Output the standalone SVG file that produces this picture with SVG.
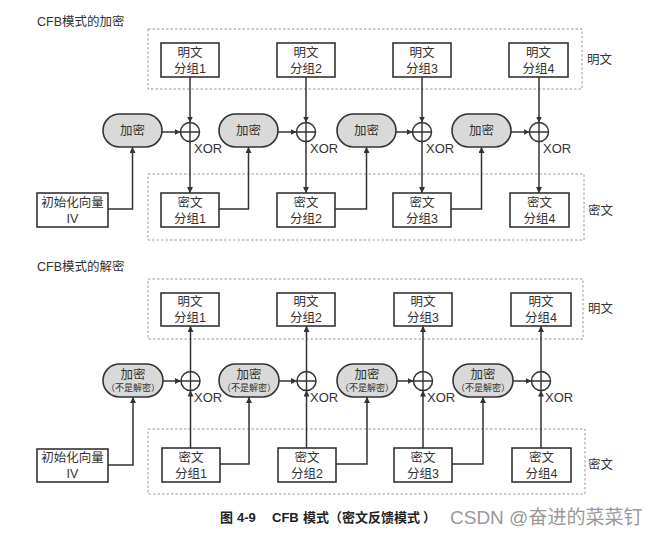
<svg xmlns="http://www.w3.org/2000/svg" width="657" height="540" viewBox="0 0 657 540">
<defs>
<marker id="ah" viewBox="0 0 10 10" refX="10" refY="5" markerWidth="6" markerHeight="6" markerUnits="userSpaceOnUse" orient="auto"><path d="M0,0 L10,5 L0,10 z" fill="#333"/></marker>
<g id="xor"><circle r="9.5" fill="#fff" stroke="#333" stroke-width="1.5"/><path d="M-9.5,0 H9.5 M0,-9.5 V9.5" stroke="#333" stroke-width="1.4"/></g>
</defs>
<style>
text{font-family:"Liberation Sans","Noto Sans CJK SC",sans-serif;fill:#333}
.t{font-size:12.5px}
.x{font-size:13px}
.c{text-anchor:middle}
.box{fill:#fff;stroke:#333;stroke-width:1.6}
.pill{fill:#d9d9d9;stroke:#333;stroke-width:1.6}
.dash{fill:none;stroke:#999;stroke-width:1;stroke-dasharray:2.5,2}
.arr{fill:none;stroke:#333;stroke-width:1.5;marker-end:url(#ah)}
.sm{font-size:9px}
.cap{font-size:13px;font-weight:bold;fill:#222}
.wm{font-size:19px;fill:#999}
</style>
<rect width="657" height="540" fill="#fff"/>

<!-- ===== Encryption ===== -->
<text class="t" x="37" y="26">CFB模式的加密</text>
<rect class="dash" x="148" y="29" width="434" height="60"/>
<rect class="dash" x="148" y="174" width="436" height="66"/>
<text class="t" x="587" y="64">明文</text>
<text class="t" x="588" y="215">密文</text>

<g id="enc-p1"><rect class="box" x="161" y="43" width="58" height="34"/><text class="t c" x="190" y="57">明文</text><text class="t c" x="190" y="73">分组1</text></g>
<g id="enc-p2"><rect class="box" x="277" y="43" width="58" height="34"/><text class="t c" x="306" y="57">明文</text><text class="t c" x="306" y="73">分组2</text></g>
<g id="enc-p3"><rect class="box" x="393" y="43" width="58" height="34"/><text class="t c" x="422" y="57">明文</text><text class="t c" x="422" y="73">分组3</text></g>
<g id="enc-p4"><rect class="box" x="509" y="43" width="59" height="34"/><text class="t c" x="538.5" y="57">明文</text><text class="t c" x="538.5" y="73">分组4</text></g>

<g id="enc-e1"><rect class="pill" x="103" y="114" width="59" height="33" rx="16.5"/><text class="t c" x="132.5" y="135">加密</text></g>
<g id="enc-e2"><rect class="pill" x="219" y="114" width="59" height="33" rx="16.5"/><text class="t c" x="248.5" y="135">加密</text></g>
<g id="enc-e3"><rect class="pill" x="337" y="114" width="59" height="33" rx="16.5"/><text class="t c" x="366.5" y="135">加密</text></g>
<g id="enc-e4"><rect class="pill" x="452" y="114" width="59" height="33" rx="16.5"/><text class="t c" x="481.5" y="135">加密</text></g>

<g id="enc-x1"><use href="#xor" x="190" y="132"/><text class="x" x="194" y="153">XOR</text></g>
<g id="enc-x2"><use href="#xor" x="306" y="132"/><text class="x" x="310" y="153">XOR</text></g>
<g id="enc-x3"><use href="#xor" x="422" y="132"/><text class="x" x="426" y="153">XOR</text></g>
<g id="enc-x4"><use href="#xor" x="539" y="132"/><text class="x" x="543" y="153">XOR</text></g>

<g id="enc-iv"><rect class="box" x="37" y="193" width="71" height="34"/><text class="t c" x="72.5" y="207">初始化向量</text><text class="t c" x="72.5" y="223">IV</text></g>
<g id="enc-c1"><rect class="box" x="161" y="193" width="58" height="34"/><text class="t c" x="190" y="207">密文</text><text class="t c" x="190" y="223">分组1</text></g>
<g id="enc-c2"><rect class="box" x="277" y="193" width="58" height="34"/><text class="t c" x="306" y="207">密文</text><text class="t c" x="306" y="223">分组2</text></g>
<g id="enc-c3"><rect class="box" x="393" y="193" width="58" height="34"/><text class="t c" x="422" y="207">密文</text><text class="t c" x="422" y="223">分组3</text></g>
<g id="enc-c4"><rect class="box" x="510" y="193" width="59" height="34"/><text class="t c" x="539.5" y="207">密文</text><text class="t c" x="539.5" y="223">分组4</text></g>

<g id="enc-connectors">
<path class="arr" d="M190,77 V122.5"/><path class="arr" d="M306,77 V122.5"/><path class="arr" d="M422,77 V122.5"/><path class="arr" d="M539,77 V122.5"/>
<path class="arr" d="M190,141.5 V193"/><path class="arr" d="M306,141.5 V193"/><path class="arr" d="M422,141.5 V193"/><path class="arr" d="M539,141.5 V193"/>
<path class="arr" d="M162,132 H180.5"/><path class="arr" d="M278,132 H296.5"/><path class="arr" d="M396,132 H412.5"/><path class="arr" d="M511,132 H529.5"/>
<path class="arr" d="M108,209 H132.5 V147"/>
<path class="arr" d="M219,209 H248.5 V147"/>
<path class="arr" d="M335,209 H366.5 V147"/>
<path class="arr" d="M451,209 H481.5 V147"/>
</g>

<!-- ===== Decryption ===== -->
<text class="t" x="37" y="271">CFB模式的解密</text>
<rect class="dash" x="148" y="279" width="435" height="60"/>
<rect class="dash" x="148" y="429" width="437" height="65"/>
<text class="t" x="588" y="313">明文</text>
<text class="t" x="588" y="469">密文</text>

<g id="dec-p1"><rect class="box" x="161" y="293" width="58" height="33"/><text class="t c" x="190" y="306">明文</text><text class="t c" x="190" y="322">分组1</text></g>
<g id="dec-p2"><rect class="box" x="277" y="293" width="58" height="33"/><text class="t c" x="306" y="306">明文</text><text class="t c" x="306" y="322">分组2</text></g>
<g id="dec-p3"><rect class="box" x="394" y="293" width="58" height="33"/><text class="t c" x="423" y="306">明文</text><text class="t c" x="423" y="322">分组3</text></g>
<g id="dec-p4"><rect class="box" x="511" y="293" width="60" height="33"/><text class="t c" x="541" y="306">明文</text><text class="t c" x="541" y="322">分组4</text></g>

<g id="dec-e1"><rect class="pill" x="103" y="364" width="60" height="33" rx="16.5"/><text class="t c" x="133" y="379">加密</text><text class="sm c" x="133" y="391">（不是解密）</text></g>
<g id="dec-e2"><rect class="pill" x="219" y="364" width="60" height="33" rx="16.5"/><text class="t c" x="249" y="379">加密</text><text class="sm c" x="249" y="391">（不是解密）</text></g>
<g id="dec-e3"><rect class="pill" x="337" y="364" width="60" height="33" rx="16.5"/><text class="t c" x="367" y="379">加密</text><text class="sm c" x="367" y="391">（不是解密）</text></g>
<g id="dec-e4"><rect class="pill" x="453" y="364" width="60" height="33" rx="16.5"/><text class="t c" x="483" y="379">加密</text><text class="sm c" x="483" y="391">（不是解密）</text></g>

<g id="dec-x1"><use href="#xor" x="190.5" y="381"/><text class="x" x="194" y="402">XOR</text></g>
<g id="dec-x2"><use href="#xor" x="306.5" y="381"/><text class="x" x="310" y="402">XOR</text></g>
<g id="dec-x3"><use href="#xor" x="423" y="381"/><text class="x" x="427" y="402">XOR</text></g>
<g id="dec-x4"><use href="#xor" x="541" y="381"/><text class="x" x="545" y="402">XOR</text></g>

<g id="dec-iv"><rect class="box" x="37" y="449" width="71" height="33"/><text class="t c" x="72.5" y="462">初始化向量</text><text class="t c" x="72.5" y="478">IV</text></g>
<g id="dec-c1"><rect class="box" x="162" y="448" width="58" height="34"/><text class="t c" x="191" y="462">密文</text><text class="t c" x="191" y="478">分组1</text></g>
<g id="dec-c2"><rect class="box" x="278" y="448" width="58" height="34"/><text class="t c" x="307" y="462">密文</text><text class="t c" x="307" y="478">分组2</text></g>
<g id="dec-c3"><rect class="box" x="394" y="448" width="58" height="34"/><text class="t c" x="423" y="462">密文</text><text class="t c" x="423" y="478">分组3</text></g>
<g id="dec-c4"><rect class="box" x="512" y="448" width="59" height="34"/><text class="t c" x="541.5" y="462">密文</text><text class="t c" x="541.5" y="478">分组4</text></g>

<g id="dec-connectors">
<path class="arr" d="M190.5,448 V390.5"/><path class="arr" d="M306.5,448 V390.5"/><path class="arr" d="M423,448 V390.5"/><path class="arr" d="M541,448 V390.5"/>
<path class="arr" d="M190.5,371.5 V326"/><path class="arr" d="M306.5,371.5 V326"/><path class="arr" d="M423,371.5 V326"/><path class="arr" d="M541,371.5 V326"/>
<path class="arr" d="M163,381 H181"/><path class="arr" d="M279,381 H297"/><path class="arr" d="M397,381 H413.5"/><path class="arr" d="M513,381 H531.5"/>
<path class="arr" d="M108,465 H133 V397"/>
<path class="arr" d="M220,464 H249 V397"/>
<path class="arr" d="M336,464 H367 V397"/>
<path class="arr" d="M452,464 H483 V397"/>
</g>

<text class="cap" y="522"><tspan x="220">图</tspan><tspan x="237">4-9</tspan><tspan x="272">CFB</tspan><tspan x="303">模式</tspan><tspan x="329">（</tspan><tspan x="342">密文反馈模式</tspan><tspan x="423">）</tspan></text>
<text class="wm" x="450" y="524">CSDN @奋进的菜菜钉</text>
</svg>
